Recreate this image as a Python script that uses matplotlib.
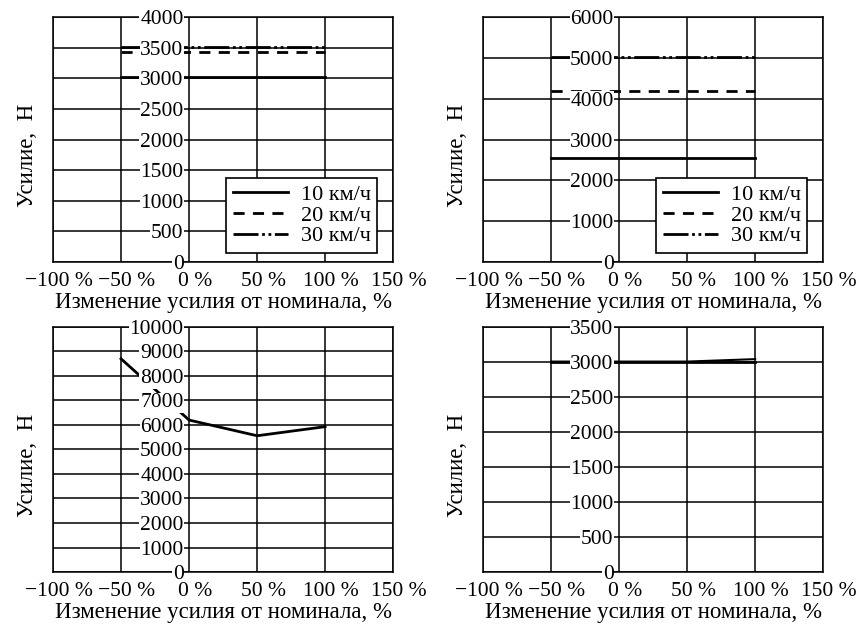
import numpy as np
import matplotlib.pyplot as plt
import matplotlib.transforms as mtransforms

plt.rcParams['font.family'] = ['Liberation Serif', 'DejaVu Serif']
plt.rcParams['font.size'] = 15.5

# common x data (change of force from nominal, %)
x_pts = [-50, 0, 50, 100]
x_ticks = [-100, -50, 0, 50, 100, 150]
x_labels = ['\u2212100 %', '\u221250 %', '0 %', '50 %', '100 %', '150 %']

series_names = ['10 км/ч', '20 км/ч', '30 км/ч']

# top left
tl_10 = [3020, 3020, 3020, 3020]
tl_20 = [3425, 3425, 3425, 3425]
tl_30 = [3510, 3510, 3510, 3510]
tl_yticks = [0, 500, 1000, 1500, 2000, 2500, 3000, 3500, 4000]

# top right
tr_10 = [2550, 2550, 2550, 2550]
tr_20 = [4180, 4180, 4180, 4180]
tr_30 = [5020, 5020, 5020, 5020]
tr_yticks = [0, 1000, 2000, 3000, 4000, 5000, 6000]

# bottom left
bl_1 = [8700, 6200, 5560, 5930]
bl_yticks = [0, 1000, 2000, 3000, 4000, 5000, 6000, 7000, 8000, 9000, 10000]

# bottom right
br_1 = [3000, 3000, 3000, 3000]
br_2 = [3005, 3005, 3005, 3040]
br_yticks = [0, 500, 1000, 1500, 2000, 2500, 3000, 3500]

styles = ['-', (0, (4, 3)), (0, (9, 1.3, 1, 1.3, 1, 1.3))]

xlabel = 'Изменение усилия от номинала, %'
ylabel = 'Усилие,  Н'


def setup(ax, yticks):
    ax.set_axisbelow(False)
    ax.xaxis.set_zorder(2.6)
    ax.set_xlim(-100, 150)
    ax.set_ylim(yticks[0], yticks[-1])
    ax.set_xticks(x_ticks)
    ax.set_xticklabels(x_labels)
    ax.set_yticks(yticks)
    ax.grid(True, color='black', lw=1.1)
    ax.spines['left'].set_position(('data', 0))
    ax.spines['left'].set_visible(False)
    for s in ['top', 'right', 'bottom']:
        ax.spines[s].set_linewidth(1.1)
    ax.axvline(-100, color='black', lw=1.1, clip_on=False)
    ax.tick_params(axis='y', length=0, pad=4)
    ax.tick_params(axis='x', length=0, pad=7)
    for lab in ax.get_yticklabels():
        lab.set_bbox(dict(fc='white', ec='none', pad=0.5))
    shift = mtransforms.ScaledTranslation(6 / 100, 0, ax.figure.dpi_scale_trans)
    for lab in ax.get_xticklabels():
        lab.set_transform(lab.get_transform() + shift)
    ax.set_xlabel(xlabel, fontsize=16.5, labelpad=1)
    ax.set_ylabel(ylabel, fontsize=16.5)
    ax.yaxis.set_label_coords(-0.045, 0.437)


def add_legend(ax):
    leg = ax.legend(loc='lower right', bbox_to_anchor=(0.953, 0.037),
                    borderaxespad=0, fancybox=False, framealpha=1,
                    edgecolor='black', fontsize=16, handlelength=2.5,
                    labelspacing=0.0, borderpad=0.3, handletextpad=0.55)
    leg.get_frame().set_linewidth(1.2)
    leg.set_zorder(5)


fig = plt.figure(figsize=(8.59, 6.24), dpi=100)
w, h = 0.396, 0.3928
ax1 = fig.add_axes([0.0617, 0.580, w, h])
ax2 = fig.add_axes([0.5623, 0.580, w, h])
ax3 = fig.add_axes([0.0617, 0.0833, w, h])
ax4 = fig.add_axes([0.5623, 0.0833, w, h])

for y, ls, name in zip([tl_10, tl_20, tl_30], styles, series_names):
    ax1.plot(x_pts, y, color='black', lw=2, ls=ls, label=name)
setup(ax1, tl_yticks)
add_legend(ax1)

for y, ls, name in zip([tr_10, tr_20, tr_30], styles, series_names):
    ax2.plot(x_pts, y, color='black', lw=2, ls=ls, label=name)
setup(ax2, tr_yticks)
add_legend(ax2)

ax3.plot(x_pts, bl_1, color='black', lw=2)
setup(ax3, bl_yticks)

ax4.plot(x_pts, br_1, color='black', lw=2)
ax4.plot(x_pts, br_2, color='black', lw=1.5)
setup(ax4, br_yticks)

fig.savefig('out.png', dpi=100)
